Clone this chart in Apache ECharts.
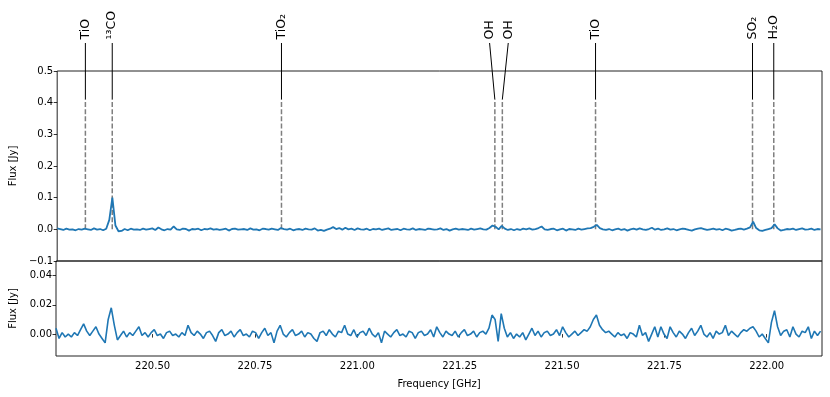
<!DOCTYPE html>
<html>
<head>
<meta charset="utf-8">
<script src="https://cdn.jsdelivr.net/npm/echarts@6/dist/echarts.min.js"></script>
<style>
  html, body { margin: 0; padding: 0; background: #fff; }
  #main { width: 830px; height: 397px; }
</style>
</head>
<body>
<div id="main"></div>
<script>
// spectral channel grid (GHz)
const freqStart = 220.264
const channelWidth = 0.0075
const freqMin = 220.264
const freqMax = 222.135

// flux of the upper panel, one value per channel (Jy)
const fluxTop = [
  0.003, 0.001, -0.002, 0.002, -0.001, 0.000, -0.003, 0.001, -0.001, 0.002,
  0.000, -0.002, 0.003, -0.001, 0.001, -0.003, 0.002, 0.030, 0.100, 0.012,
  -0.006, -0.005, 0.001, -0.003, 0.002, -0.001, 0.000, -0.002, 0.002, -0.001,
  0.001, 0.003, -0.002, 0.006, 0.000, -0.003, 0.001, -0.001, 0.009, 0.000,
  -0.002, 0.002, 0.001, -0.004, 0.001, 0.000, 0.002, -0.003, 0.001, 0.000,
  0.003, -0.001, 0.001, -0.002, 0.000, 0.002, -0.004, 0.001, 0.002, -0.001,
  0.000, 0.001, -0.002, 0.003, -0.001, 0.000, -0.003, 0.002, 0.001, -0.001,
  0.002, 0.000, -0.002, 0.004, 0.001, -0.001, 0.002, -0.003, 0.000, 0.001,
  -0.002, 0.002, 0.000, -0.001, 0.003, -0.004, -0.002, -0.005, -0.001, 0.002,
  0.007, 0.001, 0.004, -0.001, 0.005, 0.000, 0.002, -0.002, 0.003, 0.000,
  -0.001, 0.002, -0.003, 0.001, 0.000, 0.002, -0.002, 0.001, 0.003, -0.002,
  0.000, 0.001, -0.003, 0.002, 0.000, -0.001, 0.003, -0.002, 0.001, 0.000,
  -0.002, 0.002, 0.001, -0.001, 0.000, 0.003, -0.002, 0.001, -0.004, 0.000,
  0.002, -0.001, 0.001, 0.000, -0.002, 0.002, -0.001, 0.001, 0.003, 0.000,
  -0.001, 0.004, 0.012, 0.008, 0.000, 0.011, 0.002, -0.002, 0.001, -0.003,
  0.001, -0.002, 0.002, 0.000, 0.003, -0.001, 0.001, 0.004, 0.009, 0.000,
  -0.002, 0.001, 0.002, -0.003, 0.000, 0.002, -0.004, 0.001, 0.000, -0.002,
  0.002, -0.001, 0.001, 0.003, 0.004, 0.008, 0.014, 0.004, 0.000, -0.002,
  0.001, -0.003, 0.000, 0.002, -0.002, 0.001, -0.004, 0.000, 0.002, -0.001,
  0.003, 0.000, -0.002, 0.001, 0.005, -0.001, 0.002, -0.002, 0.000, 0.003,
  -0.001, 0.001, -0.003, 0.000, 0.002, 0.001, -0.002, -0.004, 0.000, 0.002,
  0.004, 0.001, -0.002, 0.000, 0.002, -0.001, 0.001, -0.003, 0.002, 0.000,
  -0.004, -0.002, 0.001, 0.002, -0.001, 0.002, 0.006, 0.024, 0.004, -0.003,
  -0.005, -0.002, 0.001, 0.004, 0.016, 0.003, -0.004, -0.002, 0.001, 0.000,
  0.002, -0.002, 0.001, 0.003, -0.001, 0.000, 0.002, -0.002, 0.001, 0.000
]

// flux of the lower panel, one value per channel (Jy)
const fluxBottom = [
  0.004, -0.003, 0.001, -0.002, 0.000, -0.002, 0.001, -0.001, 0.003, 0.007,
  0.002, -0.001, 0.002, 0.005, 0.000, -0.003, -0.006, 0.010, 0.018, 0.006,
  -0.004, -0.001, 0.002, -0.002, 0.001, -0.001, 0.002, 0.005, -0.001, 0.001,
  -0.002, 0.001, 0.003, -0.001, 0.000, -0.003, 0.001, 0.002, -0.001, 0.000,
  -0.002, 0.001, -0.001, 0.006, 0.001, -0.001, 0.002, 0.000, -0.003, 0.001,
  0.002, -0.001, -0.005, 0.001, 0.003, -0.001, 0.000, 0.002, -0.002, 0.001,
  0.003, -0.001, 0.000, -0.002, 0.002, 0.001, -0.003, 0.001, 0.004, -0.001,
  0.001, -0.006, 0.002, 0.006, 0.000, -0.002, 0.001, 0.003, -0.001, 0.000,
  0.002, -0.002, 0.001, 0.000, -0.003, -0.005, 0.001, 0.002, -0.001, 0.003,
  0.000, -0.002, 0.002, 0.001, 0.006, 0.000, -0.001, 0.003, -0.002, 0.001,
  0.002, -0.001, 0.004, 0.000, -0.002, 0.001, -0.006, 0.002, 0.000, -0.002,
  0.001, 0.003, -0.001, 0.000, -0.002, 0.002, 0.001, -0.003, 0.001, 0.002,
  -0.001, 0.000, 0.003, -0.002, 0.005, 0.001, -0.002, 0.002, 0.000, -0.001,
  0.002, -0.002, 0.001, 0.003, -0.001, 0.000, 0.002, -0.002, 0.001, 0.002,
  0.000, 0.004, 0.013, 0.010, -0.005, 0.014, 0.004, -0.002, 0.001, -0.003,
  0.000, -0.002, 0.001, -0.004, 0.000, 0.004, -0.001, 0.002, -0.002, 0.001,
  0.002, -0.001, 0.000, 0.003, -0.001, 0.005, 0.001, -0.002, 0.000, 0.002,
  -0.001, 0.001, 0.003, 0.002, 0.005, 0.010, 0.013, 0.006, 0.003, 0.001,
  0.002, 0.000, -0.002, 0.001, -0.001, 0.000, -0.003, 0.001, 0.000, -0.002,
  0.006, -0.001, 0.001, -0.005, 0.000, 0.005, -0.002, 0.005, 0.000, -0.003,
  0.005, 0.001, -0.002, 0.002, 0.000, -0.003, 0.001, 0.004, -0.001, 0.002,
  0.006, 0.000, -0.002, 0.001, -0.003, 0.002, 0.000, 0.001, 0.006, -0.001,
  0.002, 0.000, -0.002, 0.001, 0.003, 0.002, 0.004, 0.005, 0.002, -0.002,
  0.000, -0.003, -0.006, 0.008, 0.016, 0.005, -0.001, 0.002, 0.003, -0.002,
  0.005, 0.000, -0.002, 0.002, 0.001, 0.005, -0.003, 0.002, -0.001, 0.002
]

// identified lines: rest frequency, where its label sits, label text
const lineFreqs = [220.333, 220.3987, 220.8127, 221.3347, 221.353, 221.581, 221.965, 222.017]
const labelFreqs = [220.333, 220.3987, 220.8127, 221.3218, 221.3675, 221.581, 221.965, 222.017]
const lineLabels = ['TiO', '¹³CO', 'TiO₂', 'OH', 'OH', 'TiO', 'SO₂', 'H₂O']

const xTicks = [220.5, 220.75, 221.0, 221.25, 221.5, 221.75, 222.0]
const bottomTicks = [0, 0.02, 0.04]

const font = 'DejaVu Sans'
const toPairs = (vals) => vals.map((v, i) => [freqStart + i * channelWidth, v])
const minus = (s) => s.replace('-', '\u2212')

const chart = echarts.init(document.getElementById('main'))

const frame = { show: true, borderColor: '#222', borderWidth: 1, backgroundColor: 'transparent' }

const option = {
  animation: false,
  backgroundColor: '#fff',
  textStyle: { fontFamily: font },
  grid: [
    Object.assign({ left: 56, right: 8, top: 71, height: 190 }, frame),
    Object.assign({ left: 56, right: 8, top: 261, height: 95 }, frame)
  ],
  xAxis: [
    {
      type: 'value', gridIndex: 0, min: freqMin, max: freqMax,
      axisLine: { show: false }, axisTick: { show: false },
      axisLabel: { show: false }, splitLine: { show: false }
    },
    {
      type: 'value', gridIndex: 1, min: freqMin, max: freqMax,
      name: 'Frequency [GHz]', nameLocation: 'middle', nameGap: 23,
      nameTextStyle: { fontSize: 10, color: '#000', fontFamily: font },
      axisLine: { show: false },
      axisTick: { show: true, length: 3.5, customValues: xTicks, lineStyle: { color: '#000', width: 0.8 } },
      axisLabel: {
        customValues: xTicks, fontSize: 10, color: '#000', margin: 5,
        formatter: (v) => v.toFixed(2)
      },
      splitLine: { show: false }
    }
  ],
  yAxis: [
    {
      type: 'value', gridIndex: 0, min: -0.1, max: 0.5, interval: 0.1,
      name: 'Flux [Jy]', nameLocation: 'middle', nameGap: 38, nameRotate: 90,
      nameTextStyle: { fontSize: 10, color: '#000', fontFamily: font },
      axisLine: { show: false },
      axisTick: { show: true, length: 3.5, lineStyle: { color: '#000', width: 0.8 } },
      axisLabel: { fontSize: 10, color: '#000', margin: 4, formatter: (v) => minus(v.toFixed(1)) },
      splitLine: { show: false }
    },
    {
      type: 'value', gridIndex: 1, min: -0.015, max: 0.05,
      name: 'Flux [Jy]', nameLocation: 'middle', nameGap: 38, nameRotate: 90,
      nameTextStyle: { fontSize: 10, color: '#000', fontFamily: font },
      axisLine: { show: false },
      axisTick: { show: true, length: 3.5, customValues: bottomTicks, lineStyle: { color: '#000', width: 0.8 } },
      axisLabel: {
        customValues: bottomTicks, fontSize: 10, color: '#000', margin: 4,
        formatter: (v) => minus(v.toFixed(2))
      },
      splitLine: { show: false }
    }
  ],
  series: [
    {
      // line markers: dashed in the panel, solid leader up to the label
      type: 'custom',
      xAxisIndex: 0, yAxisIndex: 0,
      clip: false,
      z: 1,
      data: lineFreqs.map((f, i) => [f, labelFreqs[i]]),
      renderItem: function (params, api) {
        const f = api.value(0)
        const lf = api.value(1)
        const base = api.coord([f, 0])
        const joint = api.coord([f, 0.41])
        const lab = api.coord([lf, 0.5])
        return {
          type: 'group',
          children: [
            {
              type: 'line',
              shape: { x1: base[0], y1: base[1], x2: joint[0], y2: joint[1] },
              style: { stroke: '#7f7f7f', lineWidth: 1.5, lineDash: [5, 2.2] }
            },
            {
              type: 'line',
              shape: { x1: joint[0], y1: joint[1], x2: lab[0], y2: 43 },
              style: { stroke: '#000', lineWidth: 1 }
            },
            {
              type: 'text',
              x: lab[0], y: 39.5,
              rotation: Math.PI / 2,
              style: {
                text: lineLabels[params.dataIndex],
                align: 'left', verticalAlign: 'middle',
                textAlign: 'left', textVerticalAlign: 'middle',
                fontSize: 12.5, fontFamily: font, fill: '#000'
              }
            }
          ]
        }
      }
    },
    {
      type: 'line',
      xAxisIndex: 0, yAxisIndex: 0,
      data: toPairs(fluxTop),
      showSymbol: false,
      z: 3,
      lineStyle: { color: '#1f77b4', width: 1.8 }
    },
    {
      type: 'line',
      xAxisIndex: 1, yAxisIndex: 1,
      data: toPairs(fluxBottom),
      showSymbol: false,
      z: 3,
      lineStyle: { color: '#1f77b4', width: 1.6 }
    }
  ]
}

chart.setOption(option)
</script>
</body>
</html>
